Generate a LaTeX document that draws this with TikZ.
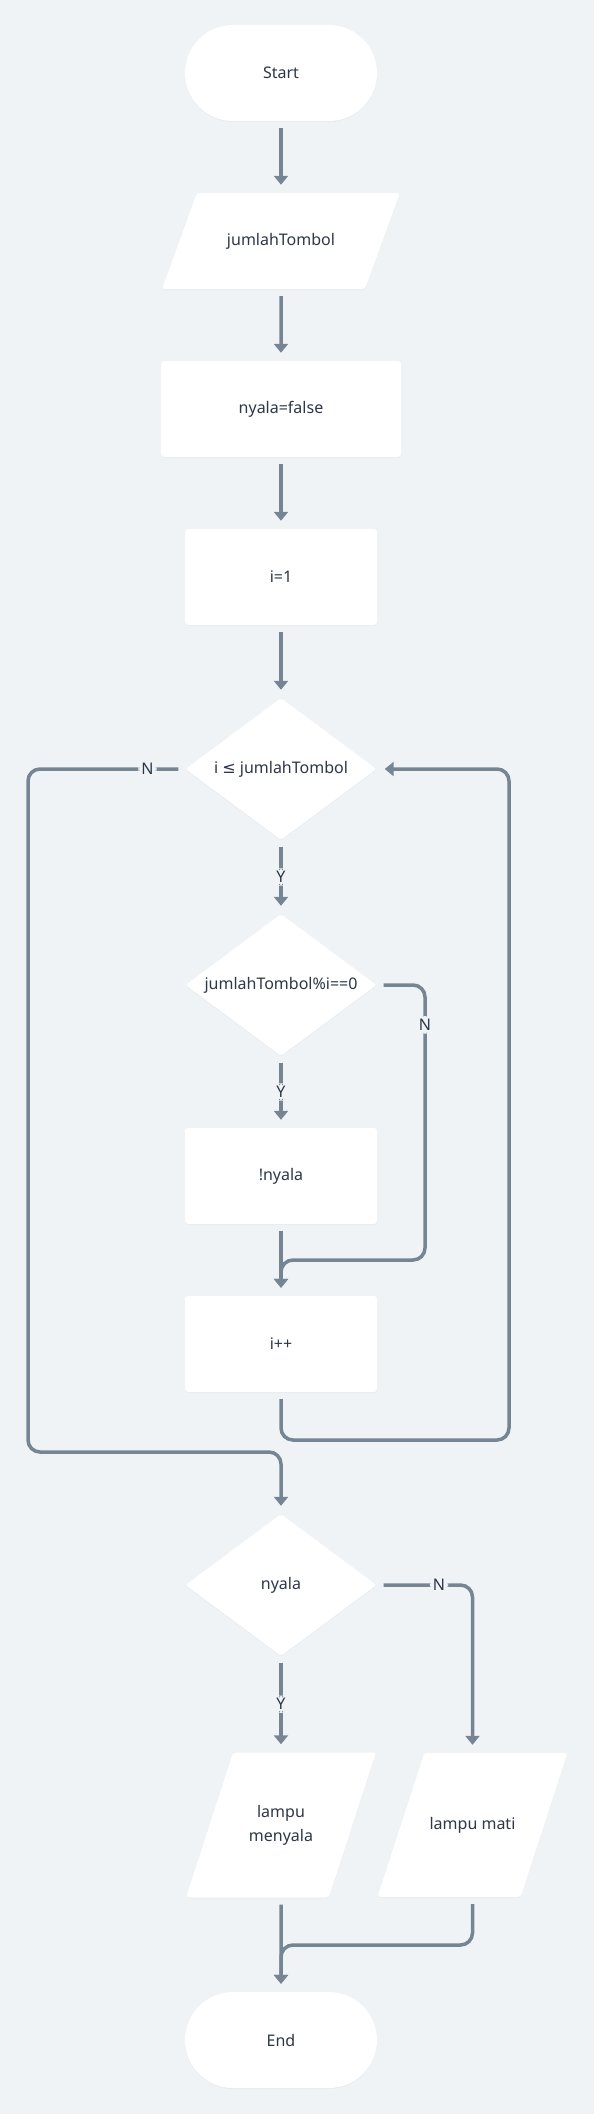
\documentclass[tikz,border=0pt]{standalone}
\usepackage{fontspec}
\setmainfont{Noto Sans}
\newfontfamily\symfont{DejaVu Sans}
\usetikzlibrary{arrows.meta,shapes.geometric,shadows}
\definecolor{bgcol}{HTML}{EFF3F6}
\definecolor{linecol}{HTML}{768594}
\definecolor{textcol}{HTML}{2D3748}

\begin{document}
\begin{tikzpicture}[x=1pt, y=-1pt,
	base/.style={fill=white, text=textcol, font=\fontsize{16}{24}\selectfont, align=center, inner sep=0pt, drop shadow={shadow xshift=0pt, shadow yshift=-1pt, opacity=0.06}},
	term/.style={base, rectangle, minimum width=192pt, minimum height=96pt, rounded corners=48pt},
	box/.style={base, rectangle, minimum height=96pt, rounded corners=3pt},
	io/.style={base, trapezium, trapezium stretches body, rounded corners=3pt},
	decision/.style={base, diamond, aspect=1.345, minimum width=191pt, minimum height=142pt, rounded corners=2pt},
	arrow/.style={-{Triangle[width=14pt,length=9pt]}, line width=3.5pt, linecol, rounded corners=12pt, shorten <=7pt, shorten >=8pt},
	edgetext/.style={fill=bgcol, text=textcol, font=\fontsize{16}{18}\selectfont, inner sep=3pt}
]
\useasboundingbox (0,0) rectangle (594,2114);
\fill[bgcol] (0,0) rectangle (594,2114);

% The boxes
\node[term] (start) at (281,73) {Start};
\node[io, trapezium left angle=70, trapezium right angle=110, text height=12pt, text depth=4pt, inner ysep=40pt, minimum width=238pt] (input) at (281,241) {jumlahTombol};
\node[box, minimum width=240pt] (init) at (281,409) {nyala=false};
\node[box, minimum width=192pt] (seti) at (281,577) {i=1};
\node[decision] (cond) at (281,769) {i {\symfont ≤} jumlahTombol};
\node[decision] (cek) at (281,985) {jumlahTombol\%i==0};
\node[box, minimum width=192pt] (toggle) at (281,1176) {!nyala};
\node[box, minimum width=192pt] (inc) at (281,1344) {i++};
\node[decision] (test) at (281,1585) {nyala};
\node[io, trapezium left angle=72, trapezium right angle=108, inner ysep=52.5pt, minimum width=190pt] (on) at (281,1825) {lampu\\menyala};
\node[io, trapezium left angle=72, trapezium right angle=108, text height=12pt, text depth=4pt, inner ysep=64pt, minimum width=190pt] (off) at (472.5,1825) {lampu mati};
\node[term] (end) at (281,2040) {End};

% The connections
\draw[arrow] (start) -- (input);
\draw[arrow] (input) -- (init);
\draw[arrow] (init) -- (seti);
\draw[arrow] (seti) -- (cond);

\draw[arrow] (cond) -- node[edgetext]{Y} (cek);
\draw[arrow] (cek) -- node[edgetext]{Y} (toggle);
\draw[arrow] (toggle) -- (inc);
\draw[arrow] (cek.east) -- (425,985) -- node[edgetext, pos=0.145]{N} (425,1260) -- (281,1260) -- (inc.north);
\draw[arrow] (inc.south) -- (281,1440) -- (509,1440) -- (509,769) -- (cond.east);
\draw[arrow] (cond.west) -- node[edgetext, pos=0.24]{N} (28,769) -- (28,1452) -- (281,1452) -- (test.north);

\draw[arrow] (test) -- node[edgetext]{Y} (on);
\draw[arrow] (test.east) -- node[edgetext, pos=0.65]{N} (472.5,1585) -- (off.north);
\draw[arrow] (on) -- (end);
\draw[arrow] (off.south) -- (472.5,1945) -- (281,1945) -- (end.north);

\end{tikzpicture}
\end{document}
